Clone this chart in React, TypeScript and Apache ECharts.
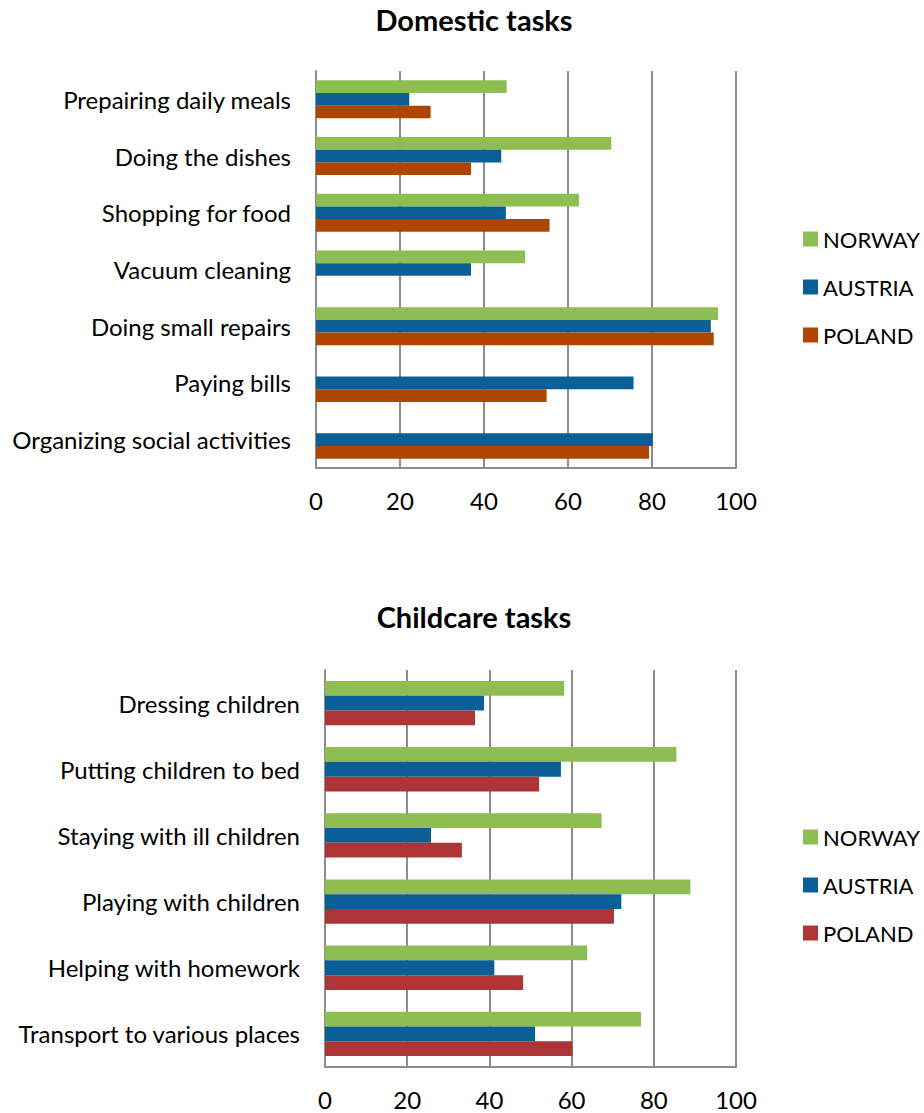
import React, { useEffect, useRef } from "react";
import * as echarts from "echarts";

const domesticCategories = [
  "Prepairing daily meals",
  "Doing the dishes",
  "Shopping for food",
  "Vacuum cleaning",
  "Doing small repairs",
  "Paying bills",
  "Organizing social activities",
];
const domesticNorway = [45.4, 70.3, 62.6, 49.8, 95.7, null, null];
const domesticAustria = [22.2, 44.1, 45.2, 36.9, 94.0, 75.6, 80.2];
const domesticPoland = [27.3, 36.9, 55.6, null, 94.7, 54.9, 79.3];

const childCategories = [
  "Dressing children",
  "Putting children to bed",
  "Staying with ill children",
  "Playing with children",
  "Helping with homework",
  "Transport to various places",
];
const childNorway = [58.2, 85.5, 67.3, 88.9, 63.8, 76.9];
const childAustria = [38.7, 57.4, 25.8, 72.1, 41.2, 51.1];
const childPoland = [36.5, 52.1, 33.3, 70.3, 48.2, 60.2];

const xTicks = { min: 0, max: 100, interval: 20 };

const FONT = "Lato";
const C_NOR = "#8ebd52";
const C_AUT = "#0a6096";
const C_POL1 = "#ae4500";
const C_POL2 = "#ae3535";

export default function App() {
  const ref = useRef<HTMLDivElement>(null);
  useEffect(() => {
    if (!ref.current) return;
    const chart = echarts.init(ref.current, null, { renderer: "svg" });
    const gray = "#8c8c8c";
    const mkX = (gridIndex: number) => ({
      type: "value",
      gridIndex,
      min: xTicks.min,
      max: xTicks.max,
      interval: xTicks.interval,
      axisLine: { show: true, lineStyle: { color: gray, width: 2 } },
      axisTick: { show: false },
      splitLine: { show: true, lineStyle: { color: gray, width: 2 } },
      axisLabel: { color: "#000", fontSize: 24, fontFamily: FONT, margin: 20 },
    });
    const mkY = (gridIndex: number, data: string[]) => ({
      type: "category",
      gridIndex,
      data,
      inverse: true,
      axisLine: { show: true, lineStyle: { color: gray, width: 2 } },
      axisTick: { show: false },
      axisLabel: { color: "#000", fontSize: 24, fontFamily: FONT, margin: 25 },
    });
    const bar = (name: string, data: any[], color: string, idx: number) => ({
      type: "bar",
      name,
      data: data.map((v) => (v === null ? "-" : v)),
      xAxisIndex: idx,
      yAxisIndex: idx,
      barGap: "0%",
      barCategoryGap: "33%",
      itemStyle: { color },
    });
    const legendText = { fontSize: 22, fontFamily: FONT, color: "#000" };
    chart.setOption({
      animation: false,
      title: [
        {
          text: "Domestic tasks",
          left: 469,
          textAlign: "center",
          top: 0,
          textStyle: { fontSize: 29, fontWeight: "bold", fontFamily: FONT, color: "#000" },
        },
        {
          text: "Childcare tasks",
          left: 469,
          textAlign: "center",
          top: 597,
          textStyle: { fontSize: 29, fontWeight: "bold", fontFamily: FONT, color: "#000" },
        },
      ],
      legend: [
        {
          orient: "vertical",
          left: 798,
          top: 223,
          itemWidth: 15,
          itemHeight: 15,
          itemGap: 26,
          icon: "rect",
          textStyle: legendText,
          data: ["NORWAY", "AUSTRIA", "POLAND"],
        },
        {
          orient: "vertical",
          left: 798,
          top: 821,
          itemWidth: 15,
          itemHeight: 15,
          itemGap: 26,
          icon: "rect",
          textStyle: legendText,
          data: ["NORWAY ", "AUSTRIA ", "POLAND "],
          formatter: (n: string) => n.trim(),
        },
      ],
      grid: [
        { left: 316, right: 188, top: 71, height: 397 },
        { left: 325, right: 188, top: 670, height: 397 },
      ],
      xAxis: [mkX(0), mkX(1)],
      yAxis: [mkY(0, domesticCategories), mkY(1, childCategories)],
      series: [
        bar("NORWAY", domesticNorway, C_NOR, 0),
        bar("AUSTRIA", domesticAustria, C_AUT, 0),
        bar("POLAND", domesticPoland, C_POL1, 0),
        bar("NORWAY ", childNorway, C_NOR, 1),
        bar("AUSTRIA ", childAustria, C_AUT, 1),
        bar("POLAND ", childPoland, C_POL2, 1),
      ],
    });
    return () => chart.dispose();
  }, []);
  return (
    <div
      ref={ref}
      style={{ position: "absolute", left: 0, top: 0, width: 924, height: 1113, background: "#fff" }}
    />
  );
}
